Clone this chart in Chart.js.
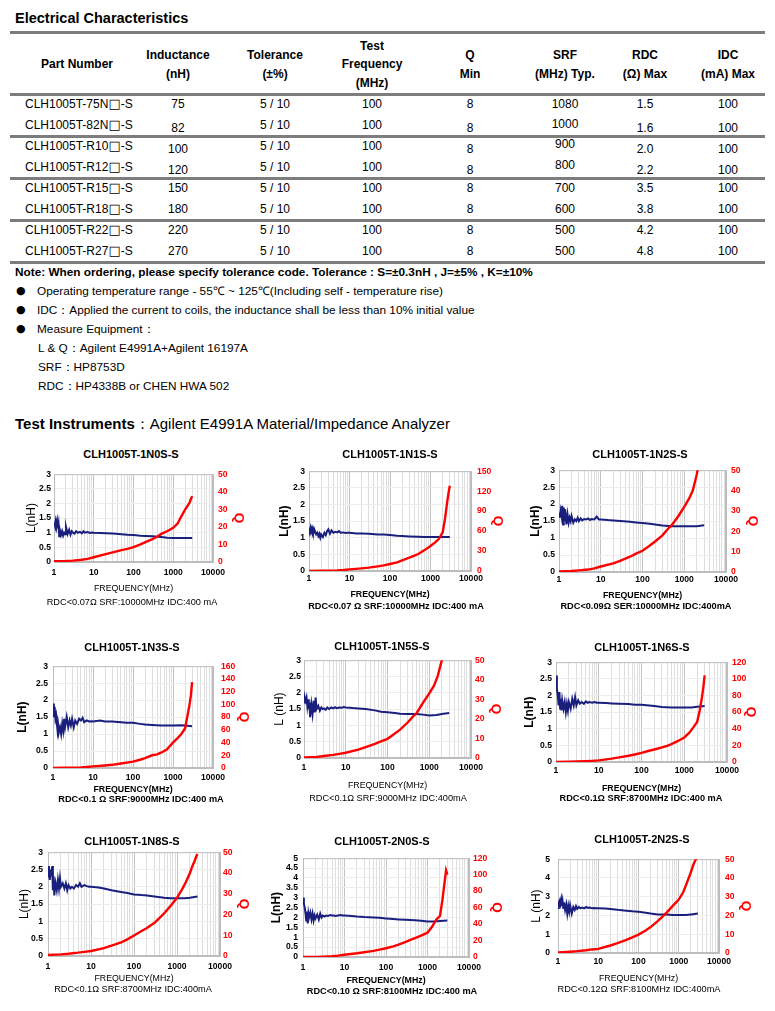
<!DOCTYPE html>
<html lang="en">
<head>
<meta charset="utf-8">
<title>CLH1005T Electrical Characteristics</title>
<script src="https://cdn.jsdelivr.net/npm/chart.js@4.4.1/dist/chart.umd.min.js"></script>
<style>
  html, body { margin:0; padding:0; background:#fff; }
  #page { position:relative; width:775px; height:1011px; overflow:hidden; font-family:"Liberation Sans", Arial, Helvetica, sans-serif; color:#000; }
  .t { position:absolute; white-space:nowrap; }
  .rule { position:absolute; left:10px; width:755px; height:3px; background:#7d7d7d; }
  .box { font-family:"DejaVu Sans", sans-serif; font-size:13px; line-height:0; }
  canvas { position:absolute; }
</style>
</head>
<body>
<div id="page"></div>
<script>
const FONT = '"Liberation Sans", Arial, Helvetica, sans-serif';

// ---------------- table data ----------------
const tableHeaders = [["Part Number"], ["Inductance", "(nH)"], ["Tolerance", "(±%)"], ["Test", "Frequency", "(MHz)"], ["Q", "Min"], ["SRF", "(MHz) Typ."], ["RDC", "(Ω) Max"], ["IDC", "(mA) Max"]];
const partNumbers = ["CLH1005T-75N□-S", "CLH1005T-82N□-S", "CLH1005T-R10□-S", "CLH1005T-R12□-S", "CLH1005T-R15□-S", "CLH1005T-R18□-S", "CLH1005T-R22□-S", "CLH1005T-R27□-S"];
const inductanceNH = ["75", "82", "100", "120", "150", "180", "220", "270"];
const tolerancePct = ["5 / 10", "5 / 10", "5 / 10", "5 / 10", "5 / 10", "5 / 10", "5 / 10", "5 / 10"];
const testFreqMHz = ["100", "100", "100", "100", "100", "100", "100", "100"];
const qMin = ["8", "8", "8", "8", "8", "8", "8", "8"];
const srfMHz = ["1080", "1000", "900", "800", "700", "600", "500", "500"];
const rdcOhm = ["1.5", "1.6", "2.0", "2.2", "3.5", "3.8", "4.2", "4.8"];
const idcMA = ["100", "100", "100", "100", "100", "100", "100", "100"];

const noteLine = "Note: When ordering, please specify tolerance code. Tolerance : S=±0.3nH , J=±5% , K=±10%";
const bulletLines = ["Operating temperature range - 55℃ ~ 125℃(Including self - temperature rise)", "IDC：Applied the current to coils, the inductance shall be less than 10% initial value", "Measure Equipment："];
const equipmentLines = ["L & Q：Agilent E4991A+Agilent 16197A", "SRF：HP8753D", "RDC：HP4338B or CHEN HWA 502"];

// ---------------- chart data ----------------
const chartNames = ["CLH1005T-1N0S-S", "CLH1005T-1N1S-S", "CLH1005T-1N2S-S", "CLH1005T-1N3S-S", "CLH1005T-1N5S-S", "CLH1005T-1N6S-S", "CLH1005T-1N8S-S", "CLH1005T-2N0S-S", "CLH1005T-2N2S-S"];
const chartCaptions = ["RDC<0.07Ω SRF:10000MHz IDC:400 mA", "RDC<0.07 Ω SRF:10000MHz IDC:400 mA", "RDC<0.09Ω SER:10000MHz IDC:400mA", "RDC<0.1 Ω SRF:9000MHz IDC:400 mA", "RDC<0.1Ω SRF:9000MHz IDC:400mA", "RDC<0.1Ω SRF:8700MHz IDC:400 mA", "RDC<0.1Ω SRF:8700MHz IDC:400mA", "RDC<0.10 Ω SRF:8100MHz IDC:400 mA", "RDC<0.12Ω SRF:8100MHz IDC:400mA"];
const lAxisTitles = ["L(nH)", "L(nH)", "L(nH)", "L(nH)", "L (nH)", "L(nH)", "L(nH)", "L(nH)", "L (nH)"];
const xAxisTitle = "FREQUENCY(MHz)";
const qAxisTitle = "Q";
const xTickLabels = [1, 10, 100, 1000, 10000];
const lAxisMax = [3, 3, 3, 3, 3, 3, 3, 5, 5];
const lAxisStep = [0.5, 0.5, 0.5, 0.5, 0.5, 0.5, 0.5, 0.5, 1];
const qAxisMax = [50, 150, 50, 160, 50, 120, 50, 120, 50];
const qAxisStep = [10, 30, 10, 20, 10, 20, 10, 20, 10];

// frequency (MHz) of the inductance samples
const fL = [1, 1.05, 1.1, 1.15, 1.2, 1.25, 1.3, 1.35, 1.4, 1.5,
            1.6, 1.7, 1.8, 1.9, 2, 2.2, 2.4, 2.6, 2.8, 3,
            3.3, 3.6, 4, 4.5, 5, 5.5, 6, 7, 8, 9,
            10, 15, 20, 30, 50, 70, 100, 150, 200, 300,
            500, 700, 1000, 1500, 2000, 3000];

const L_1N0 = [1.35, 1.25, 1.40, 1.20, 1.38, 1.15, 1.30, 0.88, 1.10, 0.92,
               1.05, 0.90, 1.00, 0.95, 1.20, 0.95, 1.10, 0.93, 1.05, 1.00,
               0.97, 1.05, 1.00, 1.03, 0.98, 1.05, 1.00, 1.02, 0.99, 1.01,
               1.00, 0.99, 0.98, 0.97, 0.95, 0.93, 0.92, 0.90, 0.89, 0.88,
               0.85, 0.83, 0.82, 0.82, 0.82, 0.82];
const L_1N1 = [1.30, 1.22, 1.32, 1.20, 1.28, 1.18, 1.25, 1.15, 1.20, 1.10,
               1.15, 1.05, 1.12, 1.00, 1.10, 1.02, 1.15, 1.08, 1.20, 1.25,
               1.12, 1.22, 1.15, 1.18, 1.16, 1.20, 1.15, 1.16, 1.14, 1.15,
               1.15, 1.13, 1.13, 1.12, 1.10, 1.10, 1.08, 1.06, 1.05, 1.04,
               1.03, 1.02, 1.02, 1.02, 1.02, 1.02];
const L_1N2 = [1.75, 1.60, 1.80, 1.65, 1.95, 1.40, 1.90, 1.50, 1.85, 1.40,
               1.70, 1.45, 1.60, 1.50, 1.65, 1.45, 1.55, 1.50, 1.60, 1.50,
               1.58, 1.52, 1.56, 1.55, 1.58, 1.53, 1.56, 1.55, 1.63, 1.55,
               1.55, 1.53, 1.52, 1.50, 1.48, 1.46, 1.44, 1.42, 1.40, 1.37,
               1.35, 1.35, 1.35, 1.35, 1.35, 1.38];
const L_1N3 = [1.90, 1.50, 1.80, 1.45, 1.55, 1.30, 1.10, 1.25, 1.05, 1.20,
               1.00, 1.30, 1.10, 1.45, 1.20, 1.50, 1.20, 1.40, 1.25, 1.45,
               1.20, 1.40, 1.30, 1.45, 1.40, 1.48, 1.35, 1.40, 1.37, 1.38,
               1.37, 1.40, 1.37, 1.37, 1.35, 1.33, 1.33, 1.30, 1.28, 1.27,
               1.25, 1.25, 1.25, 1.26, 1.25, 1.23];
const L_1N5 = [1.70, 1.85, 1.75, 1.85, 1.60, 1.80, 1.50, 1.70, 1.25, 1.65,
               1.35, 1.75, 1.40, 1.85, 1.50, 1.60, 1.45, 1.55, 1.50, 1.52,
               1.48, 1.55, 1.50, 1.55, 1.52, 1.56, 1.53, 1.55, 1.54, 1.56,
               1.55, 1.53, 1.52, 1.50, 1.46, 1.42, 1.40, 1.38, 1.36, 1.35,
               1.35, 1.33, 1.30, 1.32, 1.35, 1.38];
const L_1N6 = [2.60, 2.20, 2.00, 1.70, 2.10, 1.60, 1.90, 1.55, 1.85, 1.60,
               1.80, 1.50, 1.75, 1.55, 1.80, 1.60, 1.90, 1.70, 1.95, 1.70,
               1.85, 1.75, 1.80, 1.75, 1.82, 1.78, 1.80, 1.78, 1.80, 1.78,
               1.78, 1.77, 1.76, 1.75, 1.74, 1.72, 1.72, 1.70, 1.68, 1.65,
               1.64, 1.64, 1.64, 1.64, 1.66, 1.68];
const L_1N8 = [2.30, 2.60, 2.20, 2.50, 2.30, 2.60, 1.90, 2.30, 1.75, 2.10,
               1.90, 2.20, 1.95, 2.25, 2.00, 2.10, 1.95, 2.10, 1.90, 2.05,
               1.95, 2.00, 1.95, 2.05, 2.00, 2.10, 2.00, 2.05, 2.02, 2.00,
               2.00, 1.98, 1.95, 1.90, 1.85, 1.82, 1.78, 1.76, 1.75, 1.72,
               1.68, 1.67, 1.67, 1.67, 1.68, 1.72];
const L_2N0 = [3.00, 2.70, 2.50, 2.20, 1.80, 2.30, 1.70, 2.20, 2.00, 2.25,
               1.90, 2.20, 1.85, 2.10, 1.95, 2.15, 1.90, 2.20, 2.00, 2.10,
               2.05, 2.10, 2.08, 2.12, 2.10, 2.10, 2.08, 2.10, 2.12, 2.10,
               2.10, 2.08, 2.05, 2.02, 2.00, 1.98, 1.95, 1.92, 1.90, 1.88,
               1.86, 1.83, 1.80, 1.80, 1.82, 1.85];
const L_2N2 = [2.40, 2.70, 2.80, 2.60, 2.85, 2.50, 2.75, 2.40, 2.70, 2.30,
               2.60, 2.10, 2.50, 2.20, 2.55, 2.10, 2.45, 2.30, 2.50, 2.35,
               2.45, 2.38, 2.42, 2.38, 2.45, 2.40, 2.42, 2.38, 2.40, 2.38,
               2.38, 2.37, 2.35, 2.30, 2.25, 2.22, 2.20, 2.15, 2.10, 2.05,
               2.05, 2.03, 2.02, 2.02, 2.05, 2.10];

// frequency (MHz) of the Q samples
const fQ = [1, 2, 3, 5, 7, 10, 20, 30, 50, 70, 100, 150, 200, 300, 400, 500, 700, 1000, 1300, 1600, 2000, 2300, 2600, 2800, 3000];

const Q_1N0 = [0.5, 0.6, 0.8, 1.3, 1.8, 2.7, 4.5, 5.5, 6.8, 7.5, 8.5, 10, 11.3, 13, 14.5, 16, 17.5, 19.5, 22, 26, 30, 32, 34, 36, 37.5];
const Q_1N1 = [0, 0.3, 0.6, 1, 1.5, 2.4, 4, 5, 7, 8.5, 10.5, 13, 16, 20, 23, 25.5, 31, 37.5, 43, 48, 58, 80, 105, 118, 128];
const Q_1N2 = [0.3, 0.5, 0.8, 1.2, 1.8, 2.7, 4.2, 5.6, 7.5, 9, 10.4, 13, 15, 18, 21, 23, 27, 32, 36, 40, 48, 55, 60, 65, 70];
const Q_1N3 = [0, 0.3, 0.6, 1, 1.5, 2.5, 4, 5, 7, 8.5, 10, 13, 15.5, 20, 21.5, 24, 29, 40, 47, 53, 62, 82, 100, 114, 135];
const Q_1N5 = [0.3, 0.6, 1, 1.6, 2.1, 2.7, 4.3, 5.5, 7.2, 8.5, 9.8, 12.5, 14.5, 18, 21, 23, 28, 33, 37, 42, 50, 56, 62, 66, 70];
const Q_1N6 = [0, 0.3, 0.6, 1, 1.4, 2, 4, 5.5, 7.5, 9, 11, 13.5, 15, 17.5, 19.5, 21.5, 25, 29.5, 35, 41, 48, 62, 78, 90, 104];
const Q_1N8 = [0.5, 0.8, 1.1, 1.6, 2, 2.4, 3.8, 5, 6.5, 8, 9.9, 12, 13.5, 16, 18.5, 20.5, 24, 28, 32, 35.5, 40, 43.5, 46, 48, 49];
const Q_2N0 = [0, 0.2, 0.5, 1, 1.6, 2.8, 4.5, 5.8, 7.5, 9, 10.6, 13, 15, 18.5, 21, 23, 26, 29.5, 37, 45, 50, 70, 92, 105, 100];
const Q_2N2 = [0.3, 0.7, 1, 1.5, 1.9, 2.2, 4, 5.2, 7, 8.3, 9.8, 12, 13.8, 17, 19.5, 21.5, 25, 28.5, 32.5, 37.5, 43, 47, 49.5, 50.5, 52];

const lSeries = [L_1N0, L_1N1, L_1N2, L_1N3, L_1N5, L_1N6, L_1N8, L_2N0, L_2N2];
const qSeries = [Q_1N0, Q_1N1, Q_1N2, Q_1N3, Q_1N5, Q_1N6, Q_1N8, Q_2N0, Q_2N2];

// ---------------- layout (positions / styles only) ----------------
const chartLayout = [
  {plot:[54,472,213,562],  xL:32,  padL:3, xQ:238, padR:5, tickY:573, freqY:588, title:[131,455], cap:[132,603], bold:false},
  {plot:[309,468,471,571], xL:285, padL:4, xQ:497, padR:6, tickY:579, freqY:594, title:[390,455], cap:[396,607], bold:true},
  {plot:[559,468,726,572], xL:536, padL:4, xQ:752, padR:5, tickY:580, freqY:595, title:[640,455], cap:[646,607], bold:true},
  {plot:[53,661,213,768],  xL:23,  padL:5, xQ:243, padR:8, tickY:778, freqY:789, title:[132,648], cap:[141,800], bold:true},
  {plot:[304,659,471,758], xL:280, padL:3, xQ:495, padR:4, tickY:768, freqY:785, title:[382,647], cap:[388,799], bold:false},
  {plot:[556,660,727,762], xL:530, padL:4, xQ:750, padR:5, tickY:771, freqY:788, title:[642,648], cap:[641,799], bold:true},
  {plot:[48,850,220,956],  xL:25,  padL:5, xQ:243, padR:3, tickY:967, freqY:978, title:[132,842], cap:[133,990], bold:false},
  {plot:[303,856,469,957], xL:277, padL:5, xQ:496, padR:4, tickY:968, freqY:980, title:[382,842], cap:[392,992], bold:true},
  {plot:[558,854,719,953], xL:537, padL:8, xQ:745, padR:6, tickY:962, freqY:978, title:[642,840], cap:[639,990], bold:false}
];

const page = document.getElementById('page');

function addText(str, x, y, o) {
  o = o || {};
  const size = o.size || 12;
  const d = document.createElement('div');
  d.className = 't';
  if (o.html) d.innerHTML = str; else d.textContent = str;
  d.style.fontSize = size + 'px';
  d.style.lineHeight = (size * 1.25) + 'px';
  d.style.top = (y - size * 0.625) + 'px';
  if (o.bold) d.style.fontWeight = 'bold';
  if (o.color) d.style.color = o.color;
  if (o.family) d.style.fontFamily = o.family;
  if (o.center) {
    d.style.left = (x - 200) + 'px';
    d.style.width = '400px';
    d.style.textAlign = 'center';
  } else {
    d.style.left = x + 'px';
  }
  page.appendChild(d);
  return d;
}
function addRule(y) {
  const r = document.createElement('div');
  r.className = 'rule';
  r.style.top = (y - 1.5) + 'px';
  page.appendChild(r);
}

// ---------------- header + table ----------------
addText("Electrical Characteristics", 15, 18, {size:14.5, bold:true});
const colX = [77, 178, 275, 372, 470, 565, 645, 728];
tableHeaders.forEach((lines, c) => {
  const ys = lines.length === 1 ? [64] : lines.length === 2 ? [55, 74] : [46, 64.5, 83];
  lines.forEach((ln, k) => addText(ln, colX[c], ys[k], {size:12, bold:true, center:true}));
});
[32, 94, 136, 178, 220, 262].forEach(addRule);
const rowY = [104, 125, 146, 167, 188, 209, 230, 251];
const shiftDown = [0, 3, 3, 3, 0, 0, 0, 0];
const shiftSrf = [0, -1, -2, -2, 0, 0, 0, 0];
const tableCols = [inductanceNH, tolerancePct, testFreqMHz, qMin, srfMHz, rdcOhm, idcMA];
partNumbers.forEach((pn, r) => {
  const d = addText('', 25, rowY[r], {size:12});
  pn.split('□').forEach((part, k) => {
    if (k > 0) {
      const b = document.createElement('span');
      b.className = 'box';
      b.textContent = '□';
      d.appendChild(b);
    }
    d.appendChild(document.createTextNode(part));
  });
  tableCols.forEach((col, c) => {
    let dy = 0;
    if (c === 0 || c === 3 || c === 5 || c === 6) dy = shiftDown[r];
    if (c === 4) dy = shiftSrf[r];
    addText(col[r], colX[c + 1], rowY[r] + dy, {size:12, center:true});
  });
});

// ---------------- notes ----------------
addText(noteLine, 15, 272, {size:11.8, bold:true});
bulletLines.forEach((ln, k) => {
  addText("●", 16, 291 + k * 19, {size:11, family:'"DejaVu Sans", sans-serif'});
  addText(ln, 37, 291 + k * 19, {size:11.8});
});
equipmentLines.forEach((ln, k) => addText(ln, 38, 348 + k * 19, {size:11.8}));
addText("<b>Test Instruments</b>：Agilent E4991A Material/Impedance Analyzer", 15, 424, {size:15, html:true});

// ---------------- charts ----------------
const gridValues = [];
for (let d = 0; d < 4; d++) for (let m = 1; m < 10; m++) gridValues.push(m * Math.pow(10, d));
gridValues.push(10000);

const framePlugin = {
  id: 'frame',
  beforeDatasetsDraw(chart) {
    const a = chart.chartArea, ctx = chart.ctx;
    ctx.save();
    ctx.strokeStyle = '#bdbdbd';
    ctx.lineWidth = 1;
    ctx.strokeRect(a.left + 0.5, a.top + 0.5, a.right - a.left - 1, a.bottom - a.top - 1);
    ctx.restore();
  }
};

const fmtNum = v => String(Math.round(v * 100) / 100);

function makeChart(i) {
  const s = chartLayout[i];
  const w = s.bold ? 'bold' : 'normal';
  const lFont = {family: FONT, size: 12, weight: w};
  const qFont = {family: FONT, size: 13.5, weight: 'bold'};
  const fFont = {family: FONT, size: 8.8, weight: w};
  const tickFont = {family: FONT, size: 8.6, weight: 'bold'};
  const [pl, pt, pr, pb] = s.plot;
  const left = Math.floor(s.xL - 4 - lFont.size * 1.2 / 2);
  const right = Math.ceil(s.xQ + 4 + qFont.size * 1.2 / 2);
  const top = pt - 8;
  const bottom = Math.ceil(s.freqY + 4 + fFont.size * 1.2 / 2);
  const cv = document.createElement('canvas');
  cv.width = right - left; cv.height = bottom - top;
  cv.style.left = left + 'px'; cv.style.top = top + 'px';
  cv.style.width = (right - left) + 'px'; cv.style.height = (bottom - top) + 'px';
  page.appendChild(cv);
  const lw = pl - left, rw = right - pr, bh = bottom - pb;

  addText(chartNames[i], s.title[0], s.title[1], {size:11, bold:true, center:true});
  addText(chartCaptions[i], s.cap[0], s.cap[1], {size:9.2, bold:s.bold, center:true});

  new Chart(cv, {
    type: 'line',
    data: {
      datasets: [
        {label: 'Q', data: fQ.map((f, k) => ({x: f, y: qSeries[i][k]})), yAxisID: 'yQ',
         borderColor: '#ff0000', borderWidth: 2.4, pointRadius: 0, tension: 0, fill: false},
        {label: 'L', data: fL.map((f, k) => ({x: f, y: lSeries[i][k]})), yAxisID: 'yL',
         borderColor: '#1a1f7e', borderWidth: 2, pointRadius: 0, tension: 0, fill: false}
      ]
    },
    options: {
      responsive: false,
      animation: false,
      layout: {padding: {left: 0, right: 0, top: 8, bottom: 0}},
      plugins: {legend: {display: false}, tooltip: {enabled: false}},
      scales: {
        x: {
          type: 'logarithmic', position: 'bottom', min: 1, max: 10000,
          afterBuildTicks: sc => { sc.ticks = gridValues.map(v => ({value: v})); },
          afterFit: sc => { sc.height = bh; },
          ticks: {autoSkip: false, maxRotation: 0, minRotation: 0, font: tickFont, color: '#000',
                  padding: s.tickY - pb - tickFont.size * 1.2 / 2,
                  callback: v => xTickLabels.includes(v) ? String(v) : ''},
          grid: {drawTicks: false, lineWidth: 1,
                 color: ctx => (ctx.tick && xTickLabels.includes(ctx.tick.value)) ? '#c2c2c2' : '#dedede'},
          border: {display: true, color: '#bdbdbd'},
          title: {display: true, text: xAxisTitle, font: fFont, color: '#000', padding: {top: 0, bottom: 4}}
        },
        yL: {
          position: 'left', min: 0, max: lAxisMax[i],
          afterFit: sc => { sc.width = lw; },
          ticks: {stepSize: lAxisStep[i], autoSkip: false, font: tickFont, color: '#000', padding: s.padL, callback: fmtNum},
          grid: {drawTicks: false, color: '#ececec'},
          border: {display: true, color: '#bdbdbd'},
          title: {display: true, text: lAxisTitles[i], font: lFont, color: '#000', padding: {top: 4, bottom: 0}}
        },
        yQ: {
          position: 'right', min: 0, max: qAxisMax[i],
          afterFit: sc => { sc.width = rw; },
          ticks: {stepSize: qAxisStep[i], autoSkip: false, font: tickFont, color: '#ff0000', padding: s.padR, callback: fmtNum},
          grid: {drawOnChartArea: false, drawTicks: false},
          border: {display: true, color: '#bdbdbd'},
          title: {display: true, text: qAxisTitle, font: qFont, color: '#ff0000', padding: {top: 4, bottom: 0}}
        }
      }
    },
    plugins: [framePlugin]
  });
}
for (let i = 0; i < chartLayout.length; i++) makeChart(i);
</script>
</body>
</html>
